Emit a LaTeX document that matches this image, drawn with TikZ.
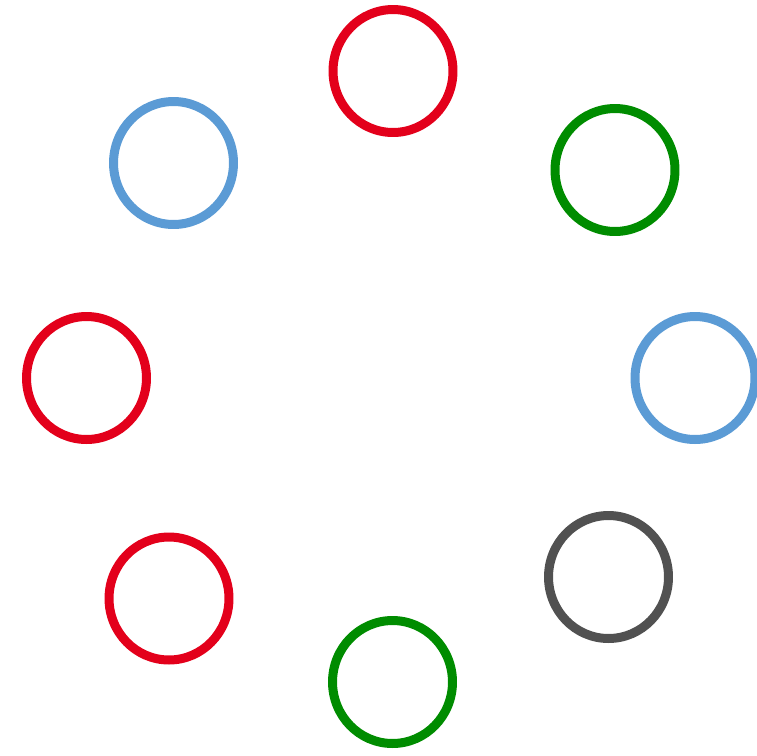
\documentclass[tikz,border=0pt]{standalone}
\usepackage{tikz}
\usetikzlibrary{positioning, shapes.geometric}
\definecolor{ringred}{HTML}{E3001B}
\definecolor{ringgreen}{HTML}{008C00}
\definecolor{ringblue}{HTML}{5B9BD5}
\definecolor{ringgray}{HTML}{515151}
\begin{document}
\begin{tikzpicture}[x=0.02cm, y=-0.02cm]

    % --- Estilos ---
    \tikzset{
        ring/.style={ellipse, minimum width=2.40cm, minimum height=2.46cm, inner sep=0pt, line width=0.18cm, fill=none},
        redring/.style={ring, draw=ringred},
        greenring/.style={ring, draw=ringgreen},
        bluering/.style={ring, draw=ringblue},
        grayring/.style={ring, draw=ringgray}
    }

    \useasboundingbox (0,0) rectangle (757,755);

    % --- Nodos ---
    \node (top) [redring] at (393,71) {};
    \node (topright) [greenring] at (615,170) {};
    \node (right) [bluering] at (695,378) {};
    \node (botright) [grayring] at (608.5,577) {};
    \node (bottom) [greenring] at (392.5,682) {};
    \node (botleft) [redring] at (169,598.5) {};
    \node (left) [redring] at (86.5,378) {};
    \node (topleft) [bluering] at (173.5,163) {};

\end{tikzpicture}
\end{document}
